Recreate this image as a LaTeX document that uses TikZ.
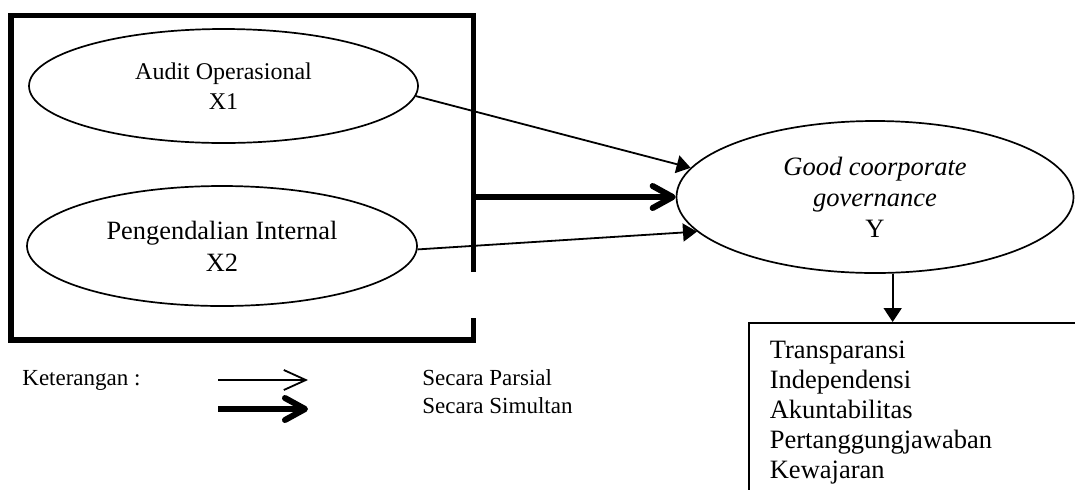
\documentclass[tikz,border=0pt]{standalone}
\usepackage{fontspec}
\setmainfont{Liberation Serif}
\usetikzlibrary{arrows.meta,positioning,shapes.geometric}

\begin{document}
\begin{tikzpicture}[
  x=0.5pt,y=-0.5pt,
  var/.style={ellipse,draw,line width=0.85pt,inner sep=0pt,align=center},
  frame/.style={line width=2.75pt,line join=miter},
  txt/.style={inner sep=0pt,anchor=base west,font=\fontsize{11.5}{14}\selectfont},
  parsial/.style={-{Triangle[length=7pt,width=9pt]},line width=0.9pt},
  simultan/.style={-{Straight Barb[length=10pt,width=11pt,round]},line width=3pt}
]
\useasboundingbox (0,0) rectangle (1075,489);

% variabel bebas dalam kerangka
\node[var,minimum width=194.5pt,minimum height=57pt,font=\fontsize{12}{15}\selectfont] (x1) at (223.5,86) {Audit Operasional\\X1};
\node[var,minimum width=195pt,minimum height=60pt,font=\fontsize{13.2}{16}\selectfont] (x2) at (222,246) {Pengendalian Internal\\X2};
\draw[frame] (473.5,272) -- (473.5,15.5) -- (11,15.5) -- (11,340) -- (473.5,340) -- (473.5,318);
\coordinate (f) at (473.5,197);

% variabel terikat
\node[var,minimum width=198.5pt,minimum height=76pt,font=\fontsize{13.25}{15.5}\selectfont] (y) at (875,197) {\textit{Good coorporate}\\\textit{governance}\\Y};
\node[draw,line width=0.85pt,anchor=north west,inner xsep=10.5pt,inner ysep=9.25pt,text width=149pt,align=left,font=\fontsize{13.25}{15}\selectfont] (ind) at (748,322) {Transparansi\\Independensi\\Akuntabilitas\\Pertanggungjawaban\\Kewajaran};

\draw[parsial] (x1.-3.5) -- (y.171);
\draw[parsial] (x2.-1) -- (y.191);
\draw[simultan] (f) -- (y.west);
\draw[parsial] (y.-77) -- (y.-77 |- ind.north);

% keterangan
\node[txt] (ket) at (22,385) {Keterangan :};
\coordinate (p1) at (218,380);
\coordinate (p2) at (308,380);
\coordinate (s1) at (218,409);
\coordinate (s2) at (308,409);
\draw[-{Straight Barb[length=11pt,width=10pt]},line width=0.9pt] (p1) -- (p2);
\draw[simultan] (s1) -- (s2);
\node[txt] (lp) at (422,385) {Secara Parsial};
\node[txt] (ls) at (422,413) {Secara Simultan};
\end{tikzpicture}
\end{document}
